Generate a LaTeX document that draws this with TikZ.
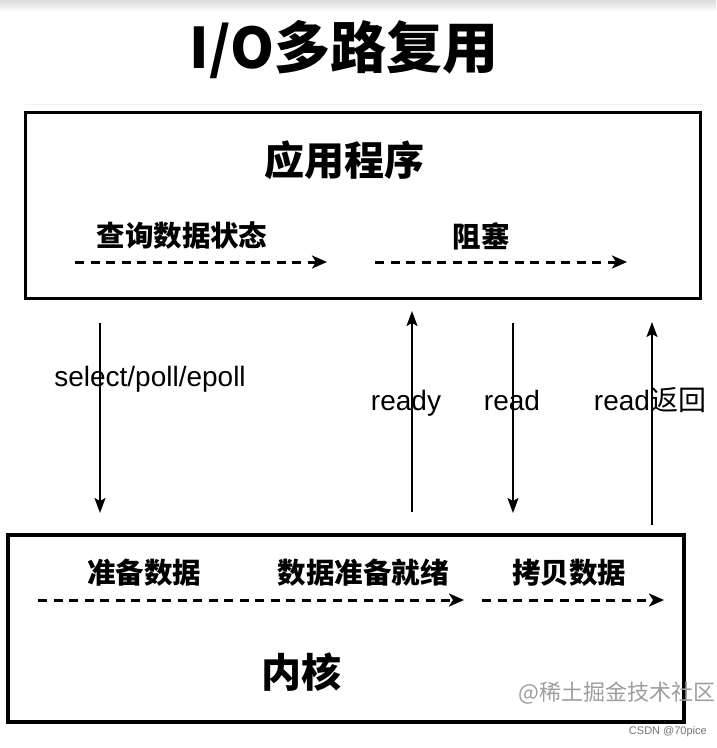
\documentclass[tikz,border=0pt]{standalone}
\usepackage{fontspec}
\setmainfont{Liberation Sans}
\newfontfamily\cjk{Noto Sans CJK SC}
\usetikzlibrary{arrows.meta}
\begin{document}
\begin{tikzpicture}[x=1pt,y=-1pt,
  bigbox/.style={draw=black, inner sep=0pt},
  heading/.style={font=\cjk\bfseries\fontsize{40}{44}\selectfont, inner sep=0pt},
  stage/.style={font=\cjk\bfseries\fontsize{28.5}{30}\selectfont, inner sep=0pt},
  lbl/.style={font=\fontsize{28}{30}\selectfont, inner sep=0pt, anchor=base},
  dasharrow/.style={draw=black, line width=3pt, dash pattern=on 9pt off 6.5pt, -{Stealth[length=15pt,width=13pt,inset=4pt]}},
  callarrow/.style={draw=black, line width=1.8pt, -{Stealth[length=15pt,width=11pt,inset=3pt]}}]
\useasboundingbox (0,0) rectangle (716,748);
\fill[white] (0,0) rectangle (716,748);
\shade[top color=black!14, bottom color=white] (0,0) rectangle (716,12);
\draw[black!6, line width=1pt] (25,104) -- (703,104);

% title
\node[font=\cjk\bfseries\fontsize{56}{60}\selectfont, inner sep=0pt] (title) at (344,50) {I/O多路复用};

% application box
\node[bigbox, line width=3pt, minimum width=675pt, minimum height=186pt] (app) at (362.5,205) {};
\node[heading] (apptitle) at (344,160) {应用程序};
\node[stage] (query) at (182,236) {查询数据状态};
\node[stage] (block) at (481,236) {阻塞};
\coordinate (q1) at (75,262);
\coordinate (q2) at (327,262);
\coordinate (b1) at (375,262);
\coordinate (b2) at (627,262);
\draw[dasharrow] (q1) -- (q2);
\draw[dasharrow] (b1) -- (b2);

% kernel box
\node[bigbox, line width=4pt, minimum width=676pt, minimum height=187pt] (kern) at (346,628.5) {};
\node[heading] (kerntitle) at (301,672) {内核};
\node[stage] (prep) at (144,573) {准备数据};
\node[stage] (ready2) at (363,573) {数据准备就绪};
\node[stage] (copy) at (569,573) {拷贝数据};
\coordinate (p1) at (38,600);
\coordinate (p2) at (464,600);
\coordinate (c1) at (482,600);
\coordinate (c2) at (664,600);
\draw[dasharrow] (p1) -- (p2);
\draw[dasharrow] (c1) -- (c2);

% vertical calls
\coordinate (s1) at (100,323);
\coordinate (s2) at (100,513);
\coordinate (r1) at (412,512);
\coordinate (r2) at (412,311);
\coordinate (d1) at (513,323);
\coordinate (d2) at (513,513);
\coordinate (e1) at (652,525);
\coordinate (e2) at (652,322);
\draw[callarrow] (s1) -- (s2);
\draw[callarrow] (r1) -- (r2);
\draw[callarrow] (d1) -- (d2);
\draw[callarrow] (e1) -- (e2);

\node[lbl] (lsel) at (150,386) {select/poll/epoll};
\node[lbl] (lready) at (406,410) {ready};
\node[lbl] (lread) at (512,410) {read};
\node[lbl] (lret) at (650,410) {read{\cjk 返回}};

% watermarks
\node[font=\cjk\fontsize{22}{24}\selectfont, text=black!38, inner sep=0pt, anchor=east] (wm) at (716,693) {@稀土掘金技术社区};
\node[font=\fontsize{11}{12}\selectfont, text=black!55, inner sep=0pt, anchor=east] (csdn) at (707,732) {CSDN @70pice};
\end{tikzpicture}
\end{document}
